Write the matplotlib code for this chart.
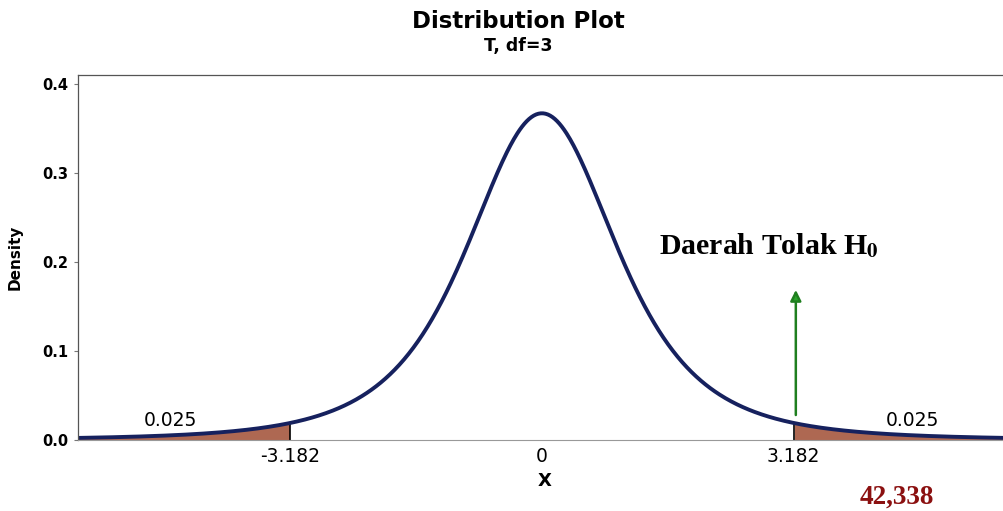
import numpy as np
import matplotlib
matplotlib.use("Agg")
import matplotlib.pyplot as plt
from math import gamma, pi, sqrt

# parameter distribusi dan daerah kritis
df = 3
t_kritis = 3.182
luas_ekor = [0.025, 0.025]
x_min, x_max = -5.866, 5.94
y_ticks = [0.0, 0.1, 0.2, 0.3, 0.4]
x_ticks = [-t_kritis, 0, t_kritis]
x_tick_labels = ["-3.182", "0", "3.182"]
t_hitung_label = "42,338"


def pdf_t(x, v):
    c = gamma((v + 1) / 2) / (sqrt(v * pi) * gamma(v / 2))
    return c * (1 + x ** 2 / v) ** (-(v + 1) / 2)


x = np.linspace(x_min, x_max, 800)
y = pdf_t(x, df)

plt.rcParams['font.family'] = ['DejaVu Sans']
plt.rcParams['mathtext.fontset'] = 'stix'

fig = plt.figure(figsize=(10.04, 5.11), dpi=100)
ax = fig.add_axes([0.0777, 0.1389, 0.93, 0.715])

# ekor kiri dan kanan
kiri = x <= -t_kritis
kanan = x >= t_kritis
ax.fill_between(x[kiri], 0, y[kiri], color="#a5573f", alpha=0.9, lw=0)
ax.fill_between(x[kanan], 0, y[kanan], color="#a5573f", alpha=0.9, lw=0)
ax.vlines([-t_kritis, t_kritis], 0, pdf_t(t_kritis, df), color="black", lw=1.2)

ax.plot(x, y, color="#16215e", lw=2.8)

ax.text(-4.70, 0.011, "%.3f" % luas_ekor[0], fontsize=13.5, ha="center", va="bottom")
ax.text(4.68, 0.011, "%.3f" % luas_ekor[1], fontsize=13.5, ha="center", va="bottom")

ax.annotate("", xy=(3.21, 0.172), xytext=(3.21, 0.025),
            arrowprops=dict(arrowstyle="-|>", color="#1f7f1f", fc="#2aa52a",
                            lw=1.8, mutation_scale=16))
ax.text(2.87, 0.219, r"Daerah Tolak H$_\mathbf{0}$", fontsize=21.5, fontweight="bold",
        family="Liberation Serif", ha="center", va="center")

ax.set_xlim(x_min, x_max)
ax.set_ylim(0, 0.411)
ax.set_yticks(y_ticks)
ax.set_yticklabels(["%.1f" % v for v in y_ticks], fontsize=10.5, fontweight="bold")
ax.set_xticks(x_ticks)
ax.set_xticklabels(x_tick_labels, fontsize=13.5)
ax.tick_params(axis="x", length=0, pad=5)
ax.tick_params(axis="y", length=3, width=0.8, color="#777777", pad=4)

for s in ["left", "top", "right"]:
    ax.spines[s].set_color("#555555")
    ax.spines[s].set_linewidth(0.9)
ax.spines["bottom"].set_color("#999999")
ax.spines["bottom"].set_linewidth(0.8)

ax.set_ylabel("Density", fontsize=11, fontweight="bold", labelpad=14)
ax.set_xlabel("X", fontsize=13, fontweight="bold", labelpad=4)

fig.text(0.516, 0.958, "Distribution Plot", fontsize=16.5, fontweight="bold",
         ha="center", va="center")
fig.text(0.516, 0.91, "T, df=3", fontsize=12.5, fontweight="bold", ha="center",
         va="center")
fig.text(0.893, 0.027, t_hitung_label, fontsize=19.5, fontweight="bold",
         family="Liberation Serif", color="#8b1010", ha="center", va="center")

fig.savefig("out.png", dpi=100)
